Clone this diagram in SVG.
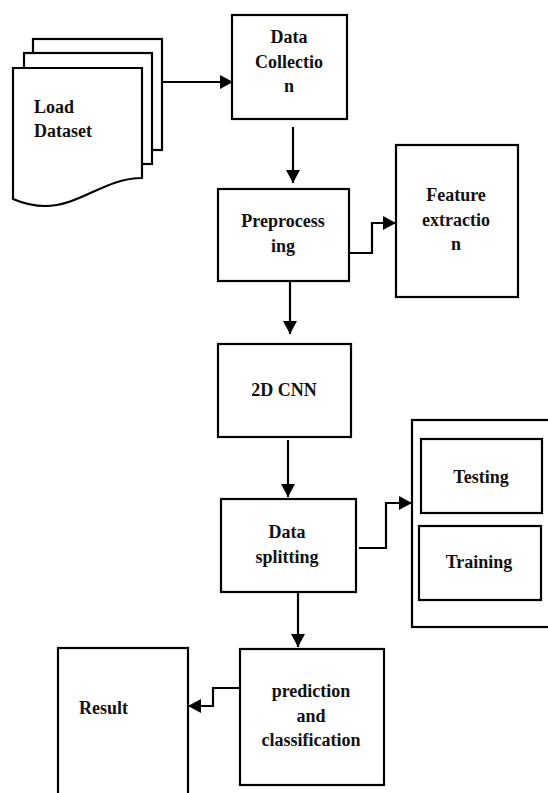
<svg xmlns="http://www.w3.org/2000/svg" width="548" height="793" viewBox="0 0 548 793">
  <defs>
    <marker id="arrow" markerUnits="userSpaceOnUse" markerWidth="14" markerHeight="14" refX="13" refY="7" orient="auto">
      <path d="M0,0 L13,7 L0,14 Z" fill="#000"/>
    </marker>
    <style>
      .box { fill: #fff; stroke: #000; stroke-width: 2.2; }
      .conn { fill: none; stroke: #000; stroke-width: 2.2; }
      .lbl { font-family: "Liberation Serif", "Times New Roman", serif; font-weight: bold; font-size: 18px; fill: #111; }
      .mid { text-anchor: middle; }
    </style>
  </defs>
  <rect width="548" height="793" fill="#fff"/>

  <!-- stacked document pages -->
  <g id="load-dataset">
    <rect class="box" x="33" y="39" width="129" height="111"/>
    <rect class="box" x="24" y="53" width="128" height="111"/>
    <path class="box" d="M13,68 H142 V178 C105,178 80,206 45,206 C30,206 20,202 13,199 Z"/>
    <text class="lbl" x="34" y="113">Load</text>
    <text class="lbl" x="34" y="137">Dataset</text>
  </g>

  <g id="data-collection">
    <rect class="box" x="232" y="15" width="115" height="104"/>
    <text class="lbl mid" x="289" y="43">Data</text>
    <text class="lbl mid" x="289" y="68">Collectio</text>
    <text class="lbl mid" x="289" y="92">n</text>
  </g>

  <g id="preprocessing">
    <rect class="box" x="218" y="189" width="131" height="92"/>
    <text class="lbl mid" x="283" y="227">Preprocess</text>
    <text class="lbl mid" x="283" y="252">ing</text>
  </g>

  <g id="feature-extraction">
    <rect class="box" x="396" y="145" width="122" height="152"/>
    <text class="lbl mid" x="456" y="201">Feature</text>
    <text class="lbl mid" x="456" y="226">extractio</text>
    <text class="lbl mid" x="456" y="250">n</text>
  </g>

  <g id="cnn-2d">
    <rect class="box" x="218" y="344" width="133" height="93"/>
    <text class="lbl mid" x="284" y="396">2D CNN</text>
  </g>

  <g id="data-splitting">
    <rect class="box" x="221" y="499" width="135" height="93"/>
    <text class="lbl mid" x="287" y="538">Data</text>
    <text class="lbl mid" x="287" y="563">splitting</text>
  </g>

  <g id="split-sets">
    <rect class="box" x="412" y="420" width="150" height="207"/>
    <g id="testing">
      <rect class="box" x="421" y="439" width="121" height="74"/>
      <text class="lbl mid" x="481" y="483">Testing</text>
    </g>
    <g id="training">
      <rect class="box" x="419" y="526" width="122" height="74"/>
      <text class="lbl mid" x="479" y="568">Training</text>
    </g>
  </g>

  <g id="prediction-classification">
    <rect class="box" x="240" y="649" width="144" height="136"/>
    <text class="lbl mid" x="311" y="697">prediction</text>
    <text class="lbl mid" x="311" y="722">and</text>
    <text class="lbl mid" x="311" y="746">classification</text>
  </g>

  <g id="result">
    <rect class="box" x="58" y="648" width="130" height="160"/>
    <text class="lbl" x="79" y="714">Result</text>
  </g>

  <g id="connectors">
    <path class="conn" d="M162,82 H233" marker-end="url(#arrow)"/>
    <path class="conn" d="M293,127 V183" marker-end="url(#arrow)"/>
    <path class="conn" d="M349,253 H372 V223 H396" marker-end="url(#arrow)"/>
    <path class="conn" d="M290,281 V334" marker-end="url(#arrow)"/>
    <path class="conn" d="M288,440 V497" marker-end="url(#arrow)"/>
    <path class="conn" d="M359,548 H386 V503 H412" marker-end="url(#arrow)"/>
    <path class="conn" d="M298,592 V647" marker-end="url(#arrow)"/>
    <path class="conn" d="M240,688 H213 V706 H188" marker-end="url(#arrow)"/>
  </g>
</svg>
